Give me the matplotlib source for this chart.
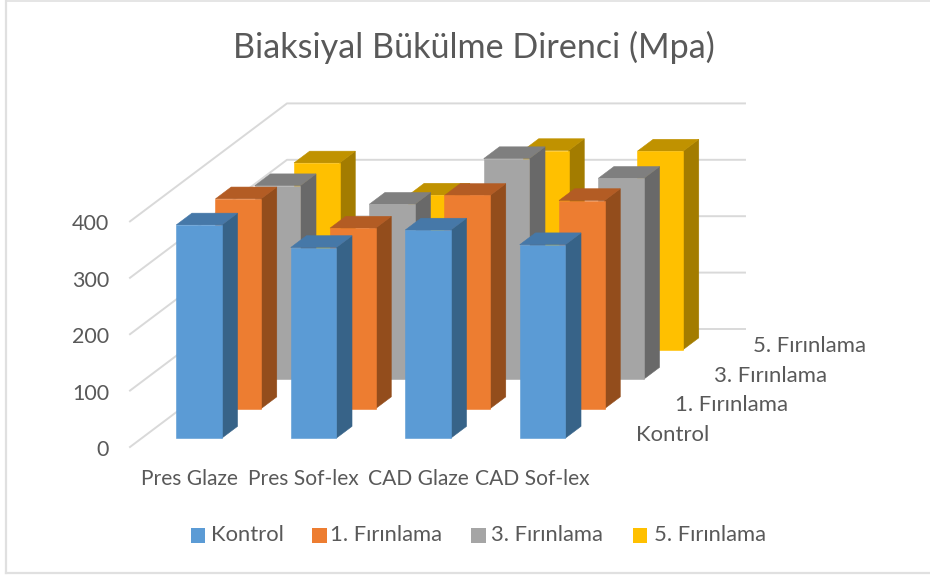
import matplotlib
matplotlib.use("Agg")
import matplotlib.pyplot as plt
from matplotlib.patches import Rectangle

plt.rcParams['font.family'] = ['Lato', 'DejaVu Sans']

categories = ["Pres Glaze", "Pres Sof-lex", "CAD Glaze", "CAD Sof-lex"]
series_names = ["Kontrol", "1. Fırınlama", "3. Fırınlama", "5. Fırınlama"]
kontrol = [378, 338, 369, 343]
firin1 = [372, 320, 378, 369]
firin3 = [343, 310, 391, 356]
firin5 = [331, 274, 353, 352]
value_ticks = [0, 100, 200, 300, 400]

faces = ["#5B9BD5", "#ED7D31", "#A5A5A5", "#FFC000"]
tops = ["#4678A8", "#B35C24", "#7F7F7F", "#C09200"]
sides = ["#376388", "#934D1C", "#696969", "#A37C00"]
text_color = "#595959"
grid_color = "#D9D9D9"


# oblique projection: category slot, series slot, value -> picture position
def project(c, d, v):
    return 130 + 114.5 * c + 39.25 * d, 447 - 0.564 * v - 29.5 * d


def face(ax, points, color, z):
    xy = [project(*p) for p in points]
    ax.fill([p[0] for p in xy], [p[1] for p in xy], fc=color, ec=color, lw=0.4, zorder=z)


def bar3d(ax, c, d, v, i, z):
    c0, c1 = c + 0.301, c + 0.699
    d0, d1 = d + 0.3, d + 0.7
    face(ax, [(c1, d0, 0), (c1, d1, 0), (c1, d1, v), (c1, d0, v)], sides[i], z)
    face(ax, [(c0, d0, v), (c1, d0, v), (c1, d1, v), (c0, d1, v)], tops[i], z)
    face(ax, [(c0, d0, 0), (c1, d0, 0), (c1, d0, v), (c0, d0, v)], faces[i], z)


fig = plt.figure(figsize=(9.3, 5.75), dpi=100)
ax = fig.add_axes([0, 0, 1, 1])
ax.set_xlim(0, 930)
ax.set_ylim(575, 0)
ax.axis("off")

# chart frame, the right edge is cut off in the picture
ax.plot([6, 6], [0, 573], color="#E0E0E0", lw=1.6, zorder=0)
ax.plot([6, 930], [573, 573], color="#E0E0E0", lw=1.6, zorder=0)
ax.plot([6, 930], [0.5, 0.5], color="#E0E0E0", lw=1.2, zorder=0)

# walls
n_cat, n_ser = len(categories), len(series_names)
for t in value_ticks:
    x0, y0 = project(0, 0, t)
    x1, y1 = project(0, n_ser, t)
    x2, y2 = project(n_cat, n_ser, t)
    ax.plot([x0, x1, x2], [y0, y1, y2], color=grid_color, lw=1.4, zorder=1)

all_values = [kontrol, firin1, firin3, firin5]
z = 2
for i in range(n_ser - 1, -1, -1):
    for c in range(n_cat):
        bar3d(ax, c, i, all_values[i][c], i, z)
        z += 1

ax.text(474, 47, "Biaksiyal Bükülme Direnci (Mpa)", fontsize=24.6, color=text_color,
        ha="center", va="center")

for t in value_ticks:
    ax.text(109, project(0, 0, t)[1] + 3, str(t), fontsize=15.5, color=text_color,
            ha="right", va="center")

for c, name in enumerate(categories):
    ax.text(project(c + 0.5, 0, 0)[0] + 2, 479, name, fontsize=15.1, color=text_color,
            ha="center", va="center")

for i, name in enumerate(series_names):
    ax.text(636 + 39 * i, 435 - 29.6 * i, name, fontsize=15.9, color=text_color,
            ha="left", va="center")

legend_x = [190.5, 312, 471, 632.5]
legend_text_x = [210.5, 330, 491, 654]
for i, name in enumerate(series_names):
    ax.add_patch(Rectangle((legend_x[i], 528), 14.5, 14.5, fc=faces[i], lw=0, zorder=5))
    ax.text(legend_text_x[i], 535, name, fontsize=15.8, color=text_color,
            ha="left", va="center")

fig.savefig("out.png", dpi=100)
